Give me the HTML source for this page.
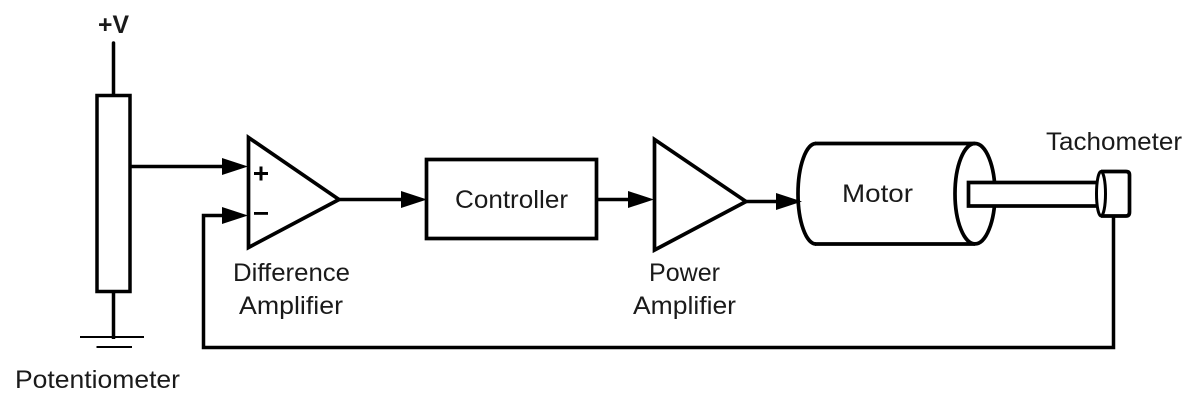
<!DOCTYPE html>
<html>
<head>
<meta charset="utf-8">
<style>
html,body{margin:0;padding:0;background:#fff;width:1196px;height:409px;overflow:hidden}
svg{display:block}
text{font-family:"Liberation Sans",sans-serif;font-size:25px;fill:#1a1a1a}
</style>
</head>
<body>
<svg width="1196" height="409" viewBox="0 0 1196 409" xmlns="http://www.w3.org/2000/svg">
<g fill="none" stroke="#000" stroke-width="3.5">
  <!-- potentiometer -->
  <path d="M113.500 43V95" stroke-linecap="round"/>
  <rect x="97" y="95.500" width="33" height="196"/>
  <path d="M113.500 292V339"/>
  <path d="M80 337H144" stroke-width="2"/>
  <path d="M96.500 347H132" stroke-width="2"/>
  <!-- wiper -->
  <path d="M130 166.500H225"/>
  <!-- feedback -->
  <path d="M1113.500 216V347.500H203.500V215.500H225"/>
  <!-- diff amp -->
  <path d="M248.500 137.500V247.500L339 199.500Z" stroke-width="3.700"/>
  <path d="M339 199.500H404"/>
  <!-- controller -->
  <rect x="426.500" y="159.500" width="170" height="79" stroke-width="3.700"/>
  <path d="M597 199.500H630"/>
  <!-- power amp -->
  <path d="M654.500 139.500V250L746 201.500Z" stroke-width="3.700"/>
  <path d="M746 201.500H780"/>
  <!-- motor -->
  <path d="M815 143.500H975M815 244H975" stroke-width="3.700"/>
  <path d="M816 143.500A18 50.250 0 0 0 816 244" stroke-width="3.700"/>
  <ellipse cx="975" cy="193.700" rx="20" ry="50.200" stroke-width="3.700"/>
  <!-- shaft -->
  <rect x="968.500" y="182.500" width="130" height="23.500" fill="#fff" stroke-width="3.700"/>
  <!-- tachometer -->
  <path d="M1101 171.500H1126Q1129.500 171.500 1129.500 175V212Q1129.500 216 1126 216H1101" stroke-width="3.700"/>
  <ellipse cx="1101" cy="193.700" rx="4.500" ry="22.200" fill="#fff" stroke-width="3"/>
</g>
<g fill="#000">
  <path d="M222 158L248 166.500L222 175Z"/>
  <path d="M222 207L248 215.500L222 224Z"/>
  <path d="M401 191L427 199.500L401 208Z"/>
  <path d="M628 191L654 199.500L628 208Z"/>
  <path d="M776 193L802 201.500L776 210Z"/>
  <!-- plus / minus -->
  <path d="M259.500 166.500h3v5.500h5.500v3h-5.500v5.500h-3v-5.500h-5.500v-3h5.500z"/>
  <rect x="254" y="212" width="14" height="2.800"/>
</g>
<text x="98" y="33" textLength="31" lengthAdjust="spacingAndGlyphs" style="font-weight:bold">+V</text>
<text x="15" y="388" textLength="165" lengthAdjust="spacingAndGlyphs">Potentiometer</text>
<text x="233" y="281" textLength="117" lengthAdjust="spacingAndGlyphs">Difference</text>
<text x="239" y="314" textLength="104" lengthAdjust="spacingAndGlyphs">Amplifier</text>
<text x="455" y="208" textLength="113" lengthAdjust="spacingAndGlyphs">Controller</text>
<text x="649" y="281" textLength="71" lengthAdjust="spacingAndGlyphs">Power</text>
<text x="633" y="314" textLength="103" lengthAdjust="spacingAndGlyphs">Amplifier</text>
<text x="842" y="202" textLength="71" lengthAdjust="spacingAndGlyphs">Motor</text>
<text x="1046" y="150" textLength="136" lengthAdjust="spacingAndGlyphs">Tachometer</text>
</svg>
</body>
</html>
